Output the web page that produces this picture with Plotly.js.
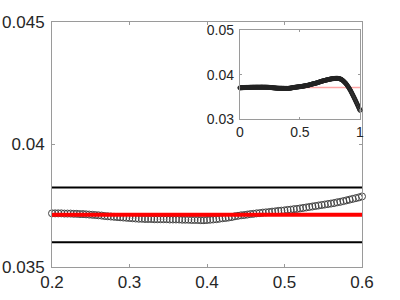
<!DOCTYPE html>
<html>
<head>
<meta charset="utf-8">
<script src="https://cdn.plot.ly/plotly-3.0.1.min.js"></script>
<style>html,body{margin:0;padding:0;background:#fff}#chart{width:400px;height:300px}</style>
</head>
<body>
<div id="chart"></div>
<script>
// ---- data ----
const sampleStart = 0;
const sampleStep = 0.004;
const sampleValues = [
  0.03705,0.03706,0.03706,0.03707,0.03708,0.03708,0.03709,0.03710,0.03710,0.03711,
  0.03712,0.03712,0.03713,0.03713,0.03714,0.03714,0.03714,0.03715,0.03715,0.03716,
  0.03716,0.03716,0.03717,0.03717,0.03717,0.03717,0.03718,0.03718,0.03718,0.03718,
  0.03718,0.03718,0.03718,0.03719,0.03719,0.03719,0.03719,0.03719,0.03719,0.03719,
  0.03719,0.03719,0.03719,0.03719,0.03720,0.03720,0.03720,0.03720,0.03719,0.03719,
  0.03719,0.03719,0.03719,0.03719,0.03718,0.03718,0.03718,0.03717,0.03717,0.03716,
  0.03716,0.03715,0.03714,0.03713,0.03712,0.03711,0.03710,0.03708,0.03707,0.03706,
  0.03705,0.03704,0.03703,0.03702,0.03701,0.03700,0.03699,0.03698,0.03697,0.03697,
  0.03696,0.03696,0.03696,0.03695,0.03695,0.03695,0.03695,0.03695,0.03694,0.03694,
  0.03694,0.03694,0.03693,0.03693,0.03693,0.03692,0.03692,0.03692,0.03691,0.03691,
  0.03692,0.03693,0.03694,0.03695,0.03697,0.03699,0.03700,0.03702,0.03704,0.03707,
  0.03709,0.03711,0.03712,0.03714,0.03716,0.03717,0.03719,0.03720,0.03722,0.03723,
  0.03724,0.03726,0.03727,0.03729,0.03730,0.03731,0.03733,0.03734,0.03736,0.03737,
  0.03739,0.03741,0.03743,0.03745,0.03747,0.03749,0.03751,0.03753,0.03755,0.03757,
  0.03759,0.03761,0.03764,0.03766,0.03769,0.03772,0.03775,0.03778,0.03781,0.03784,
  0.03788,0.03791,0.03793,0.03796,0.03799,0.03801,0.03804,0.03807,0.03810,0.03812,
  0.03815,0.03819,0.03822,0.03826,0.03830,0.03833,0.03837,0.03841,0.03844,0.03848,
  0.03852,0.03855,0.03858,0.03860,0.03863,0.03866,0.03869,0.03872,0.03875,0.03877,
  0.03880,0.03883,0.03885,0.03888,0.03890,0.03893,0.03895,0.03898,0.03900,0.03903,
  0.03905,0.03907,0.03908,0.03910,0.03911,0.03912,0.03914,0.03915,0.03916,0.03917,
  0.03918,0.03918,0.03918,0.03918,0.03917,0.03915,0.03914,0.03911,0.03908,0.03904,
  0.03900,0.03894,0.03888,0.03880,0.03872,0.03863,0.03853,0.03842,0.03830,0.03820,
  0.03810,0.03797,0.03782,0.03767,0.03752,0.03736,0.03720,0.03703,0.03686,0.03668,
  0.03650,0.03629,0.03608,0.03587,0.03566,0.03545,0.03523,0.03501,0.03479,0.03457,
  0.03435,0.03412,0.03389,0.03366,0.03343,0.03320,0.03296,0.03272,0.03248,0.03224,
  0.03200
];
const meanLevel = 0.03713;
const upperBound = 0.03825;
const lowerBound = 0.03601;

const mainXRange = [0.2, 0.6];
const mainYRange = [0.035, 0.045];
const mainXTicks = [0.2, 0.3, 0.4, 0.5, 0.6];
const mainXTickText = ['0.2', '0.3', '0.4', '0.5', '0.6'];
const mainYTicks = [0.035, 0.04, 0.045];
const mainYTickText = ['0.035', '0.04', '0.045'];

const insetXRange = [0, 1];
const insetYRange = [0.03, 0.05];
const insetXTicks = [0, 0.5, 1];
const insetXTickText = ['0', '0.5', '1'];
const insetYTicks = [0.03, 0.04, 0.05];
const insetYTickText = ['0.03', '0.04', '0.05'];

// ---- build ----
const xAll = sampleValues.map((_, i) => +(sampleStart + i * sampleStep).toFixed(4));
const mainX = [], mainY = [];
xAll.forEach((x, i) => {
  if (x >= mainXRange[0] - 1e-9 && x <= mainXRange[1] + 1e-9) { mainX.push(x); mainY.push(sampleValues[i]); }
});

const fontFam = 'Liberation Sans, Arial, Helvetica, sans-serif';
const axCol = '#9a9a9a';
const txtCol = '#262626';

const traces = [
  { x: mainX, y: mainY, type: 'scatter', mode: 'markers', cliponaxis: false,
    marker: { symbol: 'circle-open', size: 7, color: '#444', line: { width: 1, color: '#444' } },
    xaxis: 'x', yaxis: 'y', hoverinfo: 'skip' },
  { x: mainXRange, y: [upperBound, upperBound], type: 'scatter', mode: 'lines',
    line: { color: '#000', width: 2 }, xaxis: 'x', yaxis: 'y' },
  { x: mainXRange, y: [lowerBound, lowerBound], type: 'scatter', mode: 'lines',
    line: { color: '#000', width: 2 }, xaxis: 'x', yaxis: 'y' },
  { x: mainXRange, y: [meanLevel, meanLevel], type: 'scatter', mode: 'lines',
    line: { color: '#ff0000', width: 4 }, xaxis: 'x', yaxis: 'y' },
  { x: insetXRange, y: [meanLevel, meanLevel], type: 'scatter', mode: 'lines',
    line: { color: 'rgba(255,0,0,0.35)', width: 1.5 }, xaxis: 'x2', yaxis: 'y2' },
  { x: xAll, y: sampleValues, type: 'scatter', mode: 'markers', cliponaxis: false,
    marker: { symbol: 'circle-open', size: 4, color: '#222', line: { width: 1, color: '#222' } },
    xaxis: 'x2', yaxis: 'y2', hoverinfo: 'skip' }
];

const baseAxis = {
  showline: true, linecolor: axCol, linewidth: 1, mirror: 'ticks',
  ticks: 'inside', tickcolor: axCol, tickwidth: 1,
  showgrid: false, zeroline: false, tickmode: 'array'
};

const layout = {
  width: 400, height: 300,
  margin: { l: 52, r: 38, t: 22, b: 33, pad: 0 },
  paper_bgcolor: '#fff', plot_bgcolor: '#fff',
  showlegend: false,
  xaxis: Object.assign({}, baseAxis, {
    range: mainXRange, tickvals: mainXTicks, ticktext: mainXTickText, ticklen: 3,
    tickfont: { family: fontFam, size: 17, color: txtCol }
  }),
  yaxis: Object.assign({}, baseAxis, {
    range: mainYRange, tickvals: mainYTicks, ticktext: mainYTickText, ticklen: 3,
    ticklabelstandoff: 3,
    tickfont: { family: fontFam, size: 17, color: txtCol }
  }),
  xaxis2: Object.assign({}, baseAxis, {
    domain: [0.606, 0.9935], anchor: 'y2',
    range: insetXRange, tickvals: insetXTicks, ticktext: insetXTickText, ticklen: 2,
    tickfont: { family: fontFam, size: 14, color: txtCol }
  }),
  yaxis2: Object.assign({}, baseAxis, {
    domain: [0.603, 0.967], anchor: 'x2',
    range: insetYRange, tickvals: insetYTicks, ticktext: insetYTickText, ticklen: 2,
    ticklabelstandoff: 2,
    tickfont: { family: fontFam, size: 14, color: txtCol }
  })
};

Plotly.newPlot('chart', traces, layout, { staticPlot: true, displayModeBar: false });
</script>
</body>
</html>
